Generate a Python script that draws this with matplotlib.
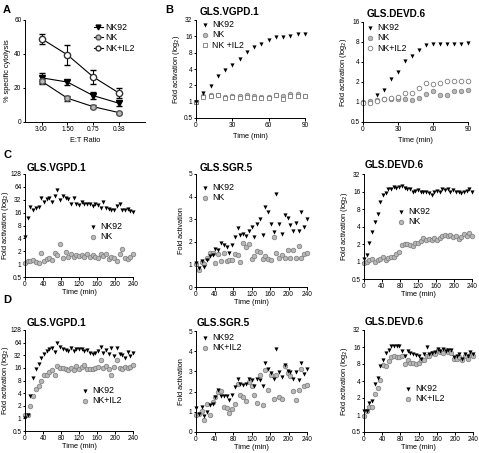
import matplotlib
matplotlib.use("Agg")
import matplotlib.pyplot as plt
from matplotlib.lines import Line2D
import numpy as np

plt.rcParams['font.family'] = ['Liberation Sans', 'DejaVu Sans']

# ---------------- data ----------------
et_labels = ["3.00", "1.50", "0.75", "0.38"]
a_nk92 = [26, 23.5, 15.5, 11]
a_nk92_err = [3, 1.5, 2, 1.5]
a_nk = [24, 14, 9, 5.5]
a_nk_err = [1.5, 1.5, 1, 0.6]
a_nkil2 = [49, 39.5, 26.5, 17]
a_nkil2_err = [3, 6, 4, 3]

t90 = [0, 6, 12, 18, 24, 30, 36, 42, 48, 54, 60, 66, 72, 78, 84, 90]
b1_nk92 = [1.0, 1.42, 1.95, 3.0, 3.9, 4.8, 6.2, 8.4, 10.0, 11.8, 13.5, 15.5, 15.5, 16.5, 17.5, 17.3]
b1_nk = [1.0, 1.28, 1.3, 1.35, 1.24, 1.25, 1.25, 1.3, 1.27, 1.22, 1.22, 1.35, 1.27, 1.38, 1.4, 1.27]
b1_nkil2 = [1.0, 1.22, 1.27, 1.3, 1.16, 1.22, 1.16, 1.2, 1.16, 1.16, 1.16, 1.3, 1.1, 1.25, 1.25, 1.25]

b2_nk92 = [None, None, 1.29, 1.53, 2.19, 2.83, 4.1, 4.9, 6.1, 7.1, 7.4, 7.5, 7.5, 7.5, 7.4, 7.7]
b2_nk = [1.0, 1.05, 1.08, 1.12, 1.12, 1.12, 1.12, 1.08, 1.15, 1.33, 1.45, 1.28, 1.28, 1.45, 1.45, 1.5]
b2_nkil2 = [0.98, 0.95, 1.03, 1.12, 1.15, 1.17, 1.35, 1.35, 1.6, 1.95, 1.85, 1.95, 2.1, 2.1, 2.1, 2.1]

t240 = list(range(0, 241, 6))
c1_nk92 = [4.2, 12, 22, 18, 20, 22, 35, 28, 33, 36, 28, 39, 55, 31, 40, 35, 33, 26, 35, 26,
           24, 28, 26, 26, 26, 23, 26, 24, 20, 28, 20, 19, 18, 18, 23, 26, 18, 18, 19, 17, 16.5]
c1_nk = [1.05, 1.2, 1.2, 1.25, 1.15, 1.05, 1.8, 1.2, 1.3, 1.4, 1.25, 1.8, 1.6, 3.0, 1.4, 1.9,
         1.45, 1.7, 1.5, 1.65, 1.55, 1.65, 1.5, 1.7, 1.5, 1.6, 1.5, 1.4, 1.7, 1.55, 1.7, 1.35,
         1.45, 1.4, 1.2, 1.7, 2.2, 1.4, 1.3, 1.5, 1.7]

c2_nk92 = [1.05, 0.85, 1.15, 0.9, 1.2, 1.35, 1.4, 1.7, 1.65, 1.95, 1.85, 1.75, 1.5, 1.85, 2.2,
           2.6, 2.3, 2.35, 2.25, 2.5, 2.65, 2.2, 2.8, 3.0, 2.3, 3.55, 3.3, 2.8, 2.45, 4.1, 2.8,
           2.35, 3.2, 3.05, 2.75, 2.5, 2.85, 2.5, 3.3, 2.65, 3.0]
c2_nk = [1.0, 0.75, 1.1, 1.0, 1.3, 1.5, 1.5, 1.05, 1.45, 1.15, 1.5, 1.15, 1.2, 1.2, 1.45, 1.4,
         1.1, 1.95, 1.75, 1.9, 1.25, 1.35, 1.6, 1.55, 1.25, 1.35, 1.25, 1.2, 2.2, 1.5, 1.3,
         1.4, 1.3, 1.65, 1.3, 1.65, 1.3, 1.8, 1.3, 1.45, 1.5]

c3_nk92 = [1.1, 1.3, 2.1, 3.2, 4.7, 6.5, 10.5, 14, 15, 18, 17.5, 19, 18.5, 19.5, 20, 18.5, 17.5,
           17.5, 16, 16.5, 17, 16, 16, 15.5, 15, 14, 15.5, 16.5, 15.5, 18, 17, 18, 16, 17, 16,
           15.5, 15, 16, 16.5, 18, 16]
c3_nk = [0.95, 1.0, 1.05, 1.1, 1.0, 1.05, 1.1, 1.2, 1.05, 1.15, 1.2, 1.2, 1.35, 1.45, 1.95,
         2.0, 2.0, 1.95, 1.85, 2.1, 2.1, 2.25, 2.5, 2.3, 2.4, 2.35, 2.5, 2.3, 2.5, 2.7, 2.85,
         2.75, 2.9, 2.6, 2.7, 2.4, 2.6, 3.0, 2.8, 3.1, 2.8]

d1_nk92 = [1.0, 1.2, 3.5, 9, 15, 20, 28, 35, 40, 45, 48, 38, 62, 50, 45, 42, 40, 48, 40, 45,
           45, 44, 40, 42, 36, 35, 36, 40, 50, 36, 42, 35, 48, 30, 48, 35, 32, 28, 38, 30, 36]
d1_nkil2 = [1.2, 1.2, 2, 3.5, 5, 6, 8, 11, 11, 13, 14, 11, 18, 16, 16, 15, 14, 16, 14, 18, 15,
            17, 19, 15, 15, 15, 16, 17, 24, 16, 18, 15, 11, 17, 24, 16, 15, 17, 16, 17, 19]

d2_nk92 = [1.2, 0.9, 1.25, 0.8, 1.0, 1.35, 1.4, 1.75, 2.1, 1.8, 1.8, 1.8, 1.6, 1.85, 2.25, 2.6,
           2.4, 2.35, 2.4, 2.6, 2.55, 2.3, 2.6, 2.55, 2.3, 3.4, 3.1, 2.9, 2.6, 4.1, 2.95, 2.7,
           3.3, 3.0, 2.95, 2.6, 2.95, 2.55, 3.4, 2.85, 3.1]
d2_nkil2 = [0.85, 0.9, 1.05, 0.6, 1.4, 0.85, 1.5, 1.75, 2.0, 2.05, 1.25, 1.2, 0.95, 1.15, 1.4,
            2.4, 1.85, 1.75, 1.55, 2.5, 2.3, 1.85, 1.45, 2.8, 1.35, 3.05, 2.1, 2.8, 1.65, 2.8,
            1.75, 1.65, 3.25, 2.9, 2.75, 2.05, 1.6, 2.1, 3.1, 2.3, 2.35]

d3_nk92 = [1.2, 1.2, 1.6, 1.8, 3.5, 4.5, 7.5, 9.5, 12.5, 14, 17, 16.5, 16.5, 16.5, 13.5, 11,
           13.5, 12.5, 12, 11.5, 11, 10, 12, 16, 12, 12.5, 13, 14.5, 13.5, 14.5, 13.5, 14, 14,
           10.5, 11, 12, 10, 12, 11, 13, 12]
d3_nkil2 = [0.95, 1.2, 1.4, 1.4, 2.4, 3.0, 4.2, 7.8, 7.5, 9, 10.5, 11, 10.5, 10.5, 11, 8, 9.5,
            8.5, 8.5, 8, 8.5, 9.5, 9.5, 11, 11, 12.5, 12, 14, 13, 12.5, 14, 13, 12.5, 10, 10,
            10.5, 9.5, 11, 10, 11.5, 11]

# ---------------- layout ----------------
W, H = 479, 453
fig = plt.figure(figsize=(W / 100, H / 100), dpi=100)

TICK_FS = 4.7
LAB_FS = 5.3
LEG_FS = 6.3
TITLE_FS = 7.2
GRAY = '#b8b8b8'
GRAY_E = '#7a7a7a'


def add_ax(x0, x1, ytop, ybot):
    ax = fig.add_axes([x0 / W, 1 - ybot / H, (x1 - x0) / W, (ybot - ytop) / H])
    ax._px = (x0, x1)
    for s in ('top', 'right'):
        ax.spines[s].set_visible(False)
    for s in ('left', 'bottom'):
        ax.spines[s].set_linewidth(0.7)
    ax.tick_params(labelsize=TICK_FS, width=0.7, length=1.8, pad=0.8)
    ax.minorticks_off()
    return ax


def leg(ax, x, y, handles=None):
    kw = dict(loc='upper left', bbox_to_anchor=(x / W, 1 - y / H), bbox_transform=fig.transFigure,
              frameon=False, fontsize=LEG_FS, handletextpad=0.3, labelspacing=0.15,
              handlelength=1.0, borderpad=0, borderaxespad=0)
    if handles is None:
        ax.legend(**kw)
    else:
        ax.legend(handles=handles, **kw)


def title(x, y, s):
    fig.text(x / W, 1 - y / H, s, fontsize=TITLE_FS, fontweight='bold', va='center', ha='left')


def letter(x, y, s):
    fig.text(x / W, 1 - y / H, s, fontsize=8, fontweight='bold', va='center', ha='left')


def log_axis(ax, ticks):
    ax.set_yscale('log', base=2)
    ax.set_ylim(ticks[0], ticks[-1])
    ax.set_yticks(ticks)
    ax.set_yticklabels([('%g' % t) for t in ticks])
    ax.minorticks_off()


def scat(ax, t, y, kind, label):
    t = np.array([a for a, b in zip(t, y) if b is not None], float)
    y = np.array([b for b in y if b is not None], float)
    if kind == 'tri':
        ax.scatter(t, y, marker='v', s=9, c='black', linewidths=0, label=label, clip_on=False, zorder=3)
    elif kind == 'gray':
        ax.scatter(t, y, marker='o', s=11, c=GRAY, edgecolors=GRAY_E, linewidths=0.5, label=label,
                   clip_on=False, zorder=2)
    elif kind == 'open':
        ax.scatter(t, y, marker='o', s=11, facecolors='white', edgecolors=GRAY_E, linewidths=0.6,
                   label=label, clip_on=False, zorder=2)
    elif kind == 'square':
        ax.scatter(t, y, marker='s', s=9, facecolors='white', edgecolors=GRAY_E, linewidths=0.6,
                   label=label, clip_on=False, zorder=2)


def time_x(ax, xmax, step):
    ax.set_xlim(0, xmax)
    ax.set_xticks(range(0, xmax + 1, step))
    ax.set_xlabel('Time (min)', fontsize=LAB_FS, labelpad=1.0)


def ylab(ax, s, right_px=None):
    ax.set_ylabel(s, fontsize=LAB_FS, labelpad=1.0)
    if right_px is not None:
        x0, x1 = ax._px
        ax.yaxis.set_label_coords((right_px - x0) / (x1 - x0), 0.5)


# ---------------- Panel A ----------------
letter(3, 10, 'A')
ax = add_ax(25, 145, 20, 122)
xa = np.arange(len(et_labels))
ax.errorbar(xa, a_nk92, yerr=a_nk92_err, color='black', marker='v', ms=4, lw=0.8,
            capsize=2, elinewidth=0.8, zorder=3)
ax.errorbar(xa, a_nk, yerr=a_nk_err, color='black', marker='o', ms=4, mfc=GRAY, mec='#555555',
            lw=0.8, capsize=2, elinewidth=0.8, zorder=3)
ax.errorbar(xa, a_nkil2, yerr=a_nkil2_err, color='black', marker='o', ms=4.5, mfc='white',
            mec='#333333', lw=0.8, capsize=2, elinewidth=0.8, zorder=3)
ax.set_xlim(-0.64, 4.0)
ax.set_ylim(0, 60)
ax.set_yticks([0, 20, 40, 60])
ax.set_xticks(xa)
ax.set_xticklabels(et_labels)
ax.set_xlabel('E:T Ratio', fontsize=LAB_FS, labelpad=3)
ax.set_ylabel('% specific cytolysis', fontsize=LAB_FS, labelpad=2.5)
hA = [Line2D([], [], color='black', lw=0.8, marker='v', ms=3.5, label='NK92'),
      Line2D([], [], color='black', lw=0.8, marker='o', ms=3.5, mfc=GRAY, mec='#555555', label='NK'),
      Line2D([], [], color='black', lw=0.8, marker='o', ms=3.5, mfc='white', mec='#333333', label='NK+IL2')]
leg(ax, 94, 23, handles=hA)

# ---------------- Panel B ----------------
letter(165, 10, 'B')
title(200, 12, 'GLS.VGPD.1')
ax = add_ax(196, 305, 20, 118)
scat(ax, t90, b1_nk92, 'tri', 'NK92')
scat(ax, t90, b1_nk, 'gray', 'NK')
scat(ax, t90, b1_nkil2, 'square', 'NK +IL2')
log_axis(ax, [0.5, 1, 2, 4, 8, 16, 32])
ax.set_xlim(0, 90)
ax.set_xticks([0, 30, 60, 90])
ax.set_xlabel('Time (min)', fontsize=LAB_FS, labelpad=3)
ylab(ax, 'Fold activation (log$_2$)')
leg(ax, 201, 20)

title(367, 14, 'GLS.DEVD.6')
ax = add_ax(363, 468, 22, 122)
scat(ax, t90, b2_nk92, 'tri', 'NK92')
scat(ax, t90, b2_nk, 'gray', 'NK')
scat(ax, t90, b2_nkil2, 'open', 'NK+IL2')
log_axis(ax, [0.5, 1, 2, 4, 8, 16])
ax.set_xlim(0, 90)
ax.set_xticks([0, 30, 60, 90])
ax.set_xlabel('Time (min)', fontsize=LAB_FS, labelpad=3)
ylab(ax, 'Fold activation (log$_2$)')
leg(ax, 366, 23)

# ---------------- Panel C ----------------
letter(3, 155, 'C')
title(27, 168, 'GLS.VGPD.1')
ax = add_ax(25, 133, 174, 277)
scat(ax, t240, c1_nk92, 'tri', 'NK92')
scat(ax, t240, c1_nk, 'gray', 'NK')
log_axis(ax, [0.5, 1, 2, 4, 8, 16, 32, 64, 128])
time_x(ax, 240, 40)
ylab(ax, 'Fold activation (log$_2$)', right_px=11.5)
leg(ax, 89, 222)

title(200, 168, 'GLS.SGR.5')
ax = add_ax(196, 307, 174, 287)
scat(ax, t240, c2_nk92, 'tri', 'NK92')
scat(ax, t240, c2_nk, 'gray', 'NK')
ax.set_ylim(0, 5)
ax.set_yticks(range(6))
time_x(ax, 240, 40)
ax.set_ylabel('Fold activation', fontsize=LAB_FS, labelpad=3)
leg(ax, 201, 183)

title(365, 165, 'GLS.DEVD.6')
ax = add_ax(364, 472, 174, 279)
scat(ax, t240, c3_nk92, 'tri', 'NK92')
scat(ax, t240, c3_nk, 'gray', 'NK')
log_axis(ax, [0.5, 1, 2, 4, 8, 16, 32])
time_x(ax, 240, 40)
ylab(ax, 'Fold activation (log$_2$)')
leg(ax, 397, 207)

# ---------------- Panel D ----------------
letter(3, 300, 'D')
title(27, 323, 'GLS.VGPD.1')
ax = add_ax(25, 133, 330, 431)
scat(ax, t240, d1_nk92, 'tri', 'NK92')
scat(ax, t240, d1_nkil2, 'gray', 'NK+IL2')
log_axis(ax, [0.5, 1, 2, 4, 8, 16, 32, 64, 128])
time_x(ax, 240, 40)
ylab(ax, 'Fold activation (log$_2$)', right_px=11.5)
leg(ax, 81, 386)

title(197, 323, 'GLS.SGR.5')
ax = add_ax(196, 307, 331, 432)
scat(ax, t240, d2_nk92, 'tri', 'NK92')
scat(ax, t240, d2_nkil2, 'gray', 'NK+IL2')
ax.set_ylim(0, 5)
ax.set_yticks(range(6))
time_x(ax, 240, 40)
ax.set_ylabel('Fold activation', fontsize=LAB_FS, labelpad=3)
leg(ax, 201, 333)

title(365, 322, 'GLS.DEVD.6')
ax = add_ax(364, 473, 330, 432)
scat(ax, t240, d3_nk92, 'tri', 'NK92')
scat(ax, t240, d3_nkil2, 'gray', 'NK+IL2')
log_axis(ax, [0.5, 1, 2, 4, 8, 16, 32])
time_x(ax, 240, 40)
ylab(ax, 'Fold activation (log$_2$)')
leg(ax, 404, 384)

fig.savefig('out.png', dpi=100)
